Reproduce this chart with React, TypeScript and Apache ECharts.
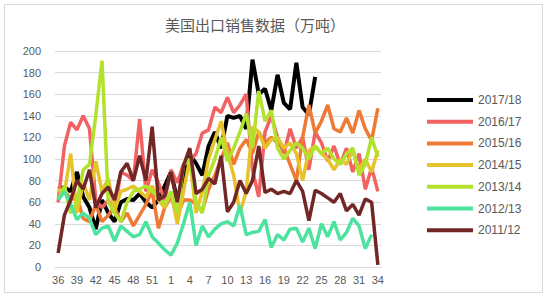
import React, { useEffect, useRef } from "react";
import * as echarts from "echarts";

const weeks: string[] = [
  "36","37","38","39","40","41","42","43","44","45","46","47","48","49","50","51","52","53",
  "1","2","3","4","5","6","7","8","9","10","11","12","13","14","15","16","17","18","19","20",
  "21","22","23","24","25","26","27","28","29","30","31","32","33","34",
];

const seriesNames = ["2017/18", "2016/17", "2015/16", "2014/15", "2013/14", "2012/13", "2011/12"];

const s1718 = [72,74,70,88,65,55,35,62,50,42,60,63,62,68,60,55,62,75,88,62,82,104,96,85,112,125,110,140,138,140,128,192,160,165,145,178,152,146,189,148,141,176];
const s1617 = [60,112,134,127,140,128,62,55,62,50,88,85,80,137,70,90,78,62,90,78,95,98,105,124,127,148,143,157,143,150,160,90,65,125,140,120,105,128,110,120,90,125,115,98,112,95,110,88,105,72,92,70];
const s1516 = [70,72,62,65,45,42,58,42,48,55,42,50,38,48,58,70,36,55,65,48,62,62,58,52,72,85,100,115,95,110,118,105,125,115,120,115,110,95,80,120,150,124,135,150,128,125,138,124,145,128,117,147];
const s1415 = [72,68,105,50,78,62,98,70,82,52,70,72,75,70,65,75,62,55,70,40,70,100,50,70,100,118,135,105,85,50,70,130,125,110,118,120,110,115,105,80,108,112,105,100,90,100,95,108,90,100,88,108];
const s1314 = [62,75,50,60,90,95,140,191,60,50,42,60,70,72,75,70,65,58,70,50,95,100,60,50,85,100,120,98,110,125,142,110,163,135,145,110,100,108,115,110,100,112,105,110,100,95,105,110,85,95,120,102];
const s1213 = [62,70,58,44,50,45,30,36,38,24,38,33,28,30,42,28,22,16,11,22,40,60,20,38,28,35,40,42,38,57,30,32,33,44,18,30,25,35,36,23,36,17,40,28,42,25,32,45,38,17,30];
const s1112 = [13,48,62,80,72,90,55,68,74,62,88,96,80,103,80,130,62,66,88,60,94,110,68,72,82,77,103,51,60,80,68,80,112,69,72,68,70,68,80,70,43,71,68,64,60,68,52,58,48,63,60,2];

const seriesData = [s1718, s1617, s1516, s1415, s1314, s1213, s1112];
const colors = ["#000000", "#F26262", "#EF7A35", "#E6C32B", "#B2E22E", "#4DE39F", "#722626"];
const yTicks = { min: 0, max: 200, interval: 20 };

export default function App() {
  const ref = useRef<HTMLDivElement>(null);
  useEffect(() => {
    document.body.style.margin = "0";
    const chart = echarts.init(ref.current!, null, { renderer: "svg" });
    const font = "'Liberation Sans', Arial, sans-serif";
    chart.setOption({
      animation: false,
      backgroundColor: "#ffffff",
      graphic: [
        {
          type: "rect",
          shape: { x: 4.5, y: 4.5, width: 538, height: 288 },
          style: { fill: "none", stroke: "#D9D9D9", lineWidth: 1 },
          silent: true,
        },
        {
          type: "text",
          x: 255,
          y: 24,
          style: {
            text: "美国出口销售数据（万吨）",
            fill: "#595959",
            font: "15px 'Noto Sans CJK SC', sans-serif",
            textAlign: "center",
            textVerticalAlign: "middle",
          },
        },
      ],
      legend: {
        orient: "vertical",
        left: 422,
        top: 88,
        icon: "rect",
        itemWidth: 46,
        itemHeight: 4,
        itemGap: 7.7,
        data: seriesNames,
        textStyle: { color: "#595959", fontSize: 12, fontFamily: font, lineHeight: 14 },
      },
      grid: { left: 55, right: 169, top: 51, bottom: 33, containLabel: false },
      xAxis: {
        type: "category",
        data: weeks,
        boundaryGap: true,
        axisLine: { lineStyle: { color: "#D9D9D9" } },
        axisTick: { show: false },
        axisLabel: { interval: 2, color: "#595959", fontSize: 11, fontFamily: font, margin: 7 },
      },
      yAxis: {
        type: "value",
        min: yTicks.min,
        max: yTicks.max,
        interval: yTicks.interval,
        axisLine: { show: false },
        axisTick: { show: false },
        axisLabel: { color: "#595959", fontSize: 11, fontFamily: font, margin: 14 },
        splitLine: { lineStyle: { color: "#D9D9D9", width: 1 } },
      },
      series: seriesNames.map((name, i) => ({
        name,
        type: "line",
        data: seriesData[i],
        showSymbol: false,
        symbol: "none",
        color: colors[i],
        lineStyle: { width: i === 0 ? 4 : 3.5, color: colors[i] },
        z: 3 + i,
      })),
    });
    return () => chart.dispose();
  }, []);
  return <div ref={ref} style={{ width: 550, height: 300 }} />;
}
